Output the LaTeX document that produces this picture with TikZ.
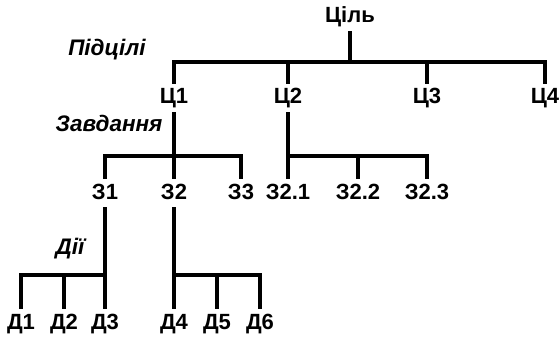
\documentclass[tikz,border=0pt]{standalone}
\usepackage{fontspec}
\setmainfont{Liberation Sans}
\usepackage{tikz}

\tikzset{
    lbl/.style={anchor=base, inner sep=4pt, text height=16pt, text depth=4pt, font=\fontsize{22}{26}\selectfont\bfseries},
    lvl/.style={anchor=base, inner sep=0pt, font=\fontsize{22.5}{26}\selectfont\bfseries\itshape},
    link/.style={line width=3.5pt, line join=miter}
}

\begin{document}
\begin{tikzpicture}[x=1pt,y=-1pt]
    \useasboundingbox (0,0) rectangle (559,339);
    % Goal
    \node [lbl] (goal) at (350,23) {Ціль};
    % Subgoals
    \node [lvl] (subgoals) at (107,56) {Підцілі};
    \node [lbl] (c1) at (174,104) {Ц1}; \node [lbl] (c2) at (288,104) {Ц2};
    \node [lbl] (c3) at (427,104) {Ц3}; \node [lbl] (c4) at (545,104) {Ц4};
    \coordinate (bc) at (0,62);
    \draw [link] (goal.south) |- (bc -| c1.north) -- (c1.north);
    \draw [link] (goal.south) |- (bc -| c2.north) -- (c2.north);
    \draw [link] (goal.south) |- (bc -| c3.north) -- (c3.north);
    \draw [link] (goal.south) |- (bc -| c4.north) -- (c4.north);
    % Tasks
    \node [lvl] (tasks) at (109,132) {Завдання};
    \node [lbl] (z1) at (105,199) {З1}; \node [lbl] (z2) at (174,199) {З2}; \node [lbl] (z3) at (241,199) {З3};
    \node [lbl] (z21) at (288,199) {З2.1}; \node [lbl] (z22) at (358,199) {З2.2}; \node [lbl] (z23) at (427,199) {З2.3};
    \coordinate (bz) at (0,156);
    \draw [link] (c1.south) |- (bz -| z1.north) -- (z1.north);
    \draw [link] (c1.south) |- (bz -| z2.north) -- (z2.north);
    \draw [link] (c1.south) |- (bz -| z3.north) -- (z3.north);
    \draw [link] (c2.south) |- (bz -| z21.north) -- (z21.north);
    \draw [link] (c2.south) |- (bz -| z22.north) -- (z22.north);
    \draw [link] (c2.south) |- (bz -| z23.north) -- (z23.north);
    % Actions
    \node [lvl] (actions) at (70,254) {Дії};
    \node [lbl] (d1) at (21,329) {Д1}; \node [lbl] (d2) at (64,329) {Д2}; \node [lbl] (d3) at (105,329) {Д3};
    \node [lbl] (d4) at (174,329) {Д4}; \node [lbl] (d5) at (217,329) {Д5}; \node [lbl] (d6) at (260,329) {Д6};
    \coordinate (bd) at (0,275);
    \draw [link] (z1.south) |- (bd -| d1.north) -- (d1.north);
    \draw [link] (z1.south) |- (bd -| d2.north) -- (d2.north);
    \draw [link] (z1.south) |- (bd -| d3.north) -- (d3.north);
    \draw [link] (z2.south) |- (bd -| d4.north) -- (d4.north);
    \draw [link] (z2.south) |- (bd -| d5.north) -- (d5.north);
    \draw [link] (z2.south) |- (bd -| d6.north) -- (d6.north);
\end{tikzpicture}
\end{document}
